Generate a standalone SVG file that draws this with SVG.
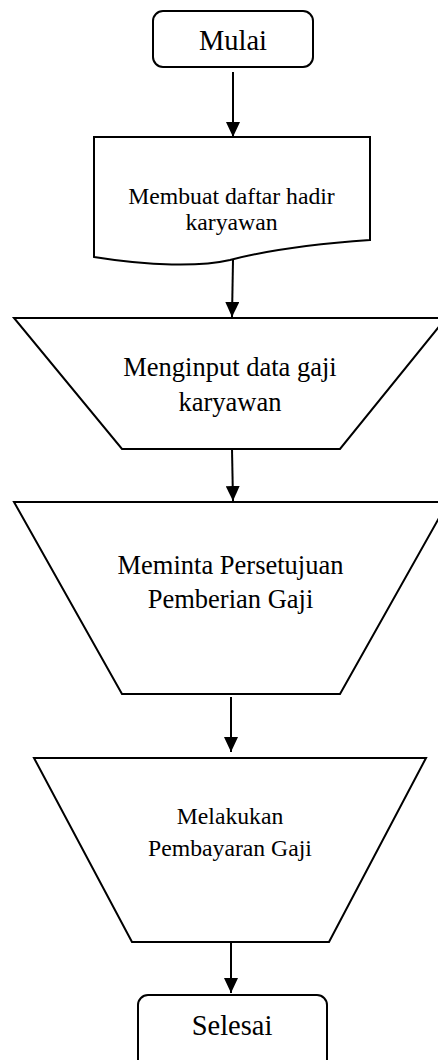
<svg xmlns="http://www.w3.org/2000/svg" width="438" height="1060" viewBox="0 0 438 1060">
<style>
.s{fill:#fff;stroke:#000;stroke-width:2}
.t{font-family:"Liberation Serif","Times New Roman",serif;fill:#000;text-anchor:middle}
.c{stroke:#000;stroke-width:2;fill:none}
</style>
<defs>
<marker id="ah" markerWidth="15" markerHeight="14" refX="15" refY="7" orient="auto" markerUnits="userSpaceOnUse" viewBox="0 0 15 14">
<path d="M0,0 L15,7 L0,14 Z" fill="#000"/>
</marker>
</defs>
<rect width="438" height="1060" fill="#fff"/>
<g id="mulai">
<rect class="s" x="153" y="11" width="160" height="56" rx="10"/>
<text class="t" x="233" y="50" font-size="28.5">Mulai</text>
</g>
<g id="daftar-hadir">
<path class="s" d="M94,137 L370,137 L370,240 C300,245 260,252 230,260 C200,267 150,266 94,257 Z"/>
<text class="t" x="231.5" y="203.5" font-size="23.7">Membuat daftar hadir</text>
<text class="t" x="231.5" y="230" font-size="23.7">karyawan</text>
</g>
<g id="input-gaji">
<path class="s" d="M14,318 L446,318 L340,449 L122,449 Z"/>
<text class="t" x="230" y="376" font-size="26.5">Menginput data gaji</text>
<text class="t" x="230" y="411" font-size="26.5">karyawan</text>
</g>
<g id="persetujuan">
<path class="s" d="M14,502 L448,502 L340,694 L122,694 Z"/>
<text class="t" x="230.5" y="574" font-size="26.5">Meminta Persetujuan</text>
<text class="t" x="230.5" y="608" font-size="26.5">Pemberian Gaji</text>
</g>
<g id="pembayaran">
<path class="s" d="M34,758 L426,758 L329,942 L132,942 Z"/>
<text class="t" x="230" y="824" font-size="23.7">Melakukan</text>
<text class="t" x="230" y="856" font-size="23.7">Pembayaran Gaji</text>
</g>
<g id="selesai">
<rect class="s" x="138" y="995" width="189" height="75" rx="10"/>
<text class="t" x="232" y="1035" font-size="28.5">Selesai</text>
</g>
<g id="connectors">
<line class="c" x1="233" y1="72" x2="233" y2="137" marker-end="url(#ah)"/>
<line class="c" x1="233" y1="260" x2="232" y2="317" marker-end="url(#ah)"/>
<line class="c" x1="232" y1="449" x2="233" y2="501" marker-end="url(#ah)"/>
<line class="c" x1="231" y1="697" x2="231" y2="752" marker-end="url(#ah)"/>
<line class="c" x1="231" y1="942" x2="231" y2="993" marker-end="url(#ah)"/>
</g>
</svg>
